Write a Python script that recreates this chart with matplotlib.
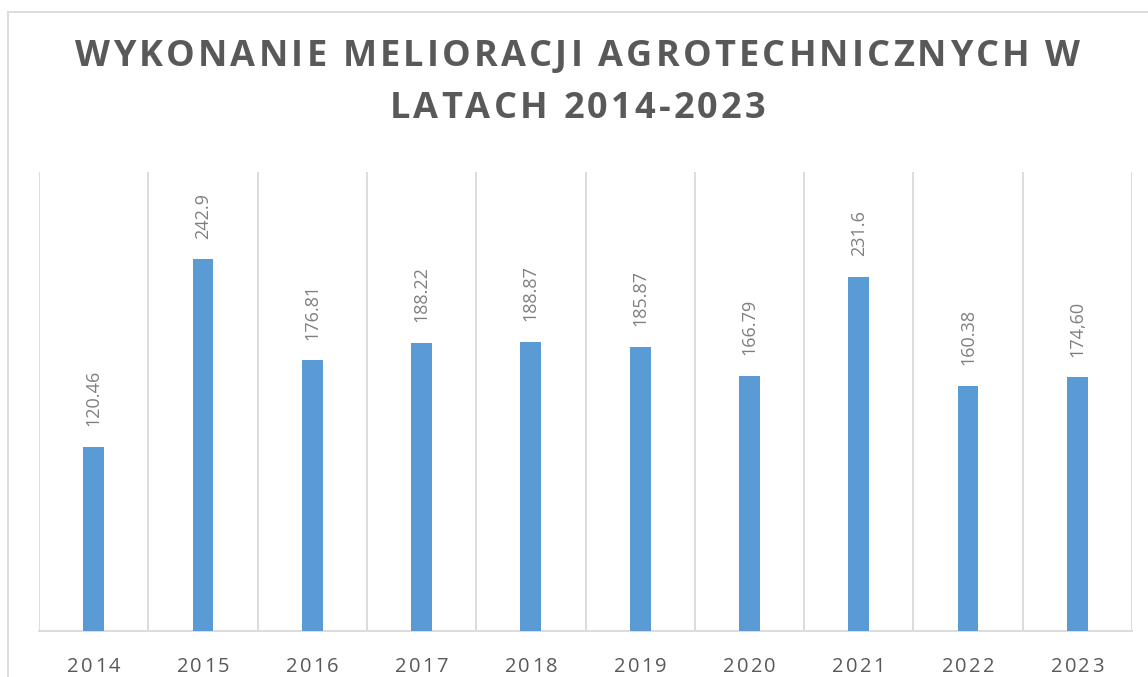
import matplotlib.pyplot as plt
from matplotlib.patches import Rectangle
from matplotlib.font_manager import FontProperties, findfont, get_font

years = ["2014", "2015", "2016", "2017", "2018", "2019", "2020", "2021", "2022", "2023"]
# bar heights as drawn; the 2023 bar is drawn lower than its typed label says
values = [120.46, 242.9, 176.81, 188.22, 188.87, 185.87, 166.79, 231.6, 160.38, 165.7]
value_labels = ["120.46", "242.9", "176.81", "188.22", "188.87", "185.87", "166.79", "231.6", "160.38", "174,60"]
title_lines = ["WYKONANIE MELIORACJI AGROTECHNICZNYCH W", "LATACH 2014-2023"]

BAR = "#5B9BD5"
GRID = "#D9D9D9"
TXT = "#595959"
W, H = 1148, 677
DPI = 100


def spaced_text(fig, cx, baseline, s, size, track, weight="normal", color=TXT):
    """Draw s centred on cx (pixels, from left) with extra letter spacing."""
    prop = FontProperties(family="Open Sans", weight=weight, size=size)
    font = get_font(findfont(prop))
    font.set_size(size, DPI)
    adv = [font.load_char(ord(c)).linearHoriAdvance / 65536 for c in s]
    total = sum(adv) + track * (len(s) - 1)
    x = cx - total / 2
    for c, a in zip(s, adv):
        if c != " ":
            fig.text(x / W, 1 - baseline / H, c, ha="left", va="baseline",
                     fontproperties=prop, color=color)
        x += a + track


def main():
    fig = plt.figure(figsize=(W / DPI, H / DPI), dpi=DPI)

    # chart area border (cropped at right/bottom like the source)
    fig.patches.append(Rectangle((8 / W, -0.1), 1.2, 1 - 12 / H + 0.1,
                                 transform=fig.transFigure, fill=False,
                                 edgecolor=GRID, lw=1.3))

    ax = fig.add_axes([39 / W, 1 - 631 / H, (1132 - 39) / W, (631 - 172) / H])
    x = list(range(len(years)))
    ax.bar(x, values, width=0.19, color=BAR, zorder=3)

    for i in range(len(years) + 1):
        ax.axvline(i - 0.5, color=GRID, lw=1.3, zorder=1)

    for xi, v, lab in zip(x, values, value_labels):
        ax.annotate(lab, (xi, v), xytext=(0, 15), textcoords="offset points",
                    rotation=90, ha="center", va="bottom", fontsize=13,
                    color="#7F7F7F", family="Open Sans")

    ax.set_xlim(-0.5, len(years) - 0.5)
    ax.set_ylim(0, 300)
    ax.set_yticks([])
    ax.set_xticks(x)
    ax.set_xticklabels([""] * len(years))
    ax.tick_params(axis="x", length=0)
    for s in ("top", "left", "right"):
        ax.spines[s].set_visible(False)
    ax.spines["bottom"].set_color(GRID)
    ax.spines["bottom"].set_linewidth(1.3)

    # category labels with letter spacing, placed at the axis' own x positions
    for xi, y in zip(x, years):
        px = ax.transData.transform((xi, 0))[0]
        spaced_text(fig, px, 672, y, 14.5, 2.2)

    spaced_text(fig, 577.5, 66, title_lines[0], 26, 3.2, weight="bold")
    spaced_text(fig, 577.5, 118, title_lines[1], 26, 3.2, weight="bold")

    fig.savefig("out.png", dpi=DPI)


if __name__ == "__main__":
    main()
